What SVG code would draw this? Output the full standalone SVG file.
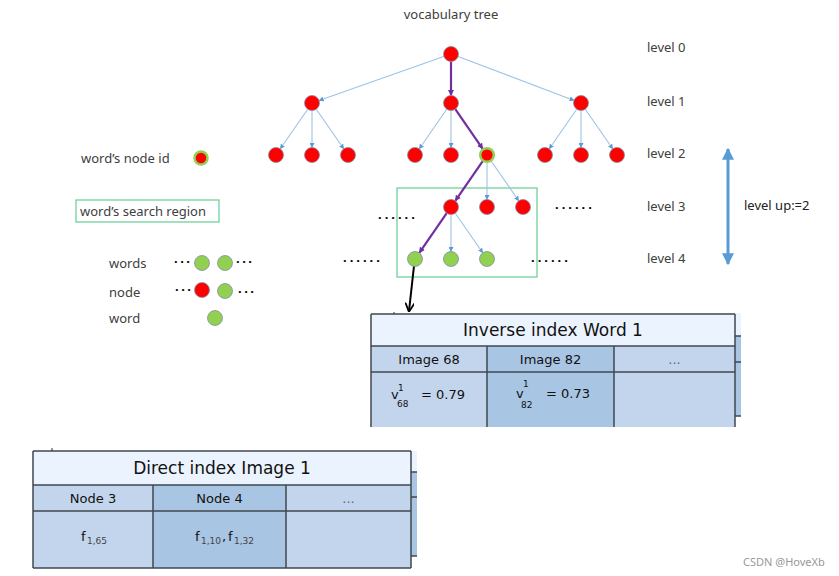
<svg xmlns="http://www.w3.org/2000/svg" width="839" height="576" viewBox="0 0 839 576">
<defs>
<marker id="ab" viewBox="0 0 10 10" refX="9" refY="5" markerWidth="5" markerHeight="5" orient="auto" markerUnits="userSpaceOnUse"><path d="M0,0 L10,5 L0,10 z" fill="#5b9bd5"/></marker>
<marker id="ap" viewBox="0 0 10 10" refX="9" refY="5" markerWidth="6" markerHeight="6" orient="auto" markerUnits="userSpaceOnUse"><path d="M0,0 L10,5 L0,10 z" fill="#7030a0"/></marker>
<marker id="ak" viewBox="0 0 10 10" refX="9" refY="5" markerWidth="9" markerHeight="9" orient="auto" markerUnits="userSpaceOnUse"><path d="M0,0 L10,5 L0,10" fill="none" stroke="#000" stroke-width="2"/></marker>
<marker id="au" viewBox="0 0 10 10" refX="9" refY="5" markerWidth="12" markerHeight="12" orient="auto-start-reverse" markerUnits="userSpaceOnUse"><path d="M0,0 L10,5 L0,10 z" fill="#5b9bd5"/></marker>
</defs>
<style>
text{font-family:"Noto Sans","Liberation Sans",sans-serif;fill:#404040;font-size:13px}
.r{fill:#ff0000;stroke:#7f8fa8;stroke-width:0.8}
.g{fill:#92d050;stroke:#7f8fa8;stroke-width:0.8}
.hl{fill:#ff0000;stroke:#92d050;stroke-width:2.5}
.e{stroke:#9dc3e6;stroke-width:1.1;fill:none;marker-end:url(#ab)}
.p{stroke:#7030a0;stroke-width:2.2;fill:none;marker-end:url(#ap)}
.dots{font-weight:bold;fill:#000;letter-spacing:3px}
.tb{stroke:#3f474f;stroke-width:1.5}
.hd{fill:#ebf3fe}
.c1{fill:#c3d5ec}
.c2{fill:#a8c5e3}
.tt{font-family:"DejaVu Sans",sans-serif;fill:#111}
.s{font-size:9px}
.lv{fill:#404040}
</style>
<rect width="839" height="576" fill="#fff"/>
<text x="451" y="19" text-anchor="middle">vocabulary tree</text>
<g id="levels" class="lv">
<text x="647" y="52">level 0</text>
<text x="647" y="106">level 1</text>
<text x="647" y="158">level 2</text>
<text x="647" y="211">level 3</text>
<text x="647" y="263">level 4</text>
</g>
<g id="levelup">
<line x1="728" y1="149" x2="728" y2="264" stroke="#5b9bd5" stroke-width="3" marker-end="url(#au)" marker-start="url(#au)"/>
<text x="744" y="210" style="fill:#222">level up:=2</text>
</g>
<rect x="397" y="188" width="140" height="89" fill="none" stroke="#6fd19c" stroke-width="1.3"/>
<g id="connectors">
<line class="e" x1="444.4" y1="56.3" x2="319.1" y2="100.5"/>
<line class="p" x1="451" y1="61.5" x2="451" y2="95.5"/>
<line class="e" x1="458" y1="56.5" x2="574" y2="100.4"/>
<line class="e" x1="307.7" y1="109.2" x2="280.3" y2="148.8"/>
<line class="e" x1="312" y1="110.5" x2="312" y2="147.5"/>
<line class="e" x1="316.3" y1="109.2" x2="343.7" y2="148.8"/>
<line class="e" x1="446.7" y1="109.2" x2="419.3" y2="148.8"/>
<line class="e" x1="451" y1="110.5" x2="451" y2="147.5"/>
<line class="p" x1="455.3" y1="109.2" x2="482.7" y2="148.8"/>
<line class="e" x1="576.7" y1="109.2" x2="549.3" y2="148.8"/>
<line class="e" x1="581" y1="110.5" x2="581" y2="147.5"/>
<line class="e" x1="585.3" y1="109.2" x2="612.7" y2="148.8"/>
<line class="p" x1="482.7" y1="161.2" x2="455.3" y2="200.8"/>
<line class="e" x1="487" y1="162.5" x2="487" y2="199.5"/>
<line class="e" x1="491.3" y1="161.2" x2="518.7" y2="200.8"/>
<line class="p" x1="446.7" y1="213.2" x2="419.3" y2="252.8"/>
<line class="e" x1="451" y1="214.5" x2="451" y2="251.5"/>
<line class="e" x1="455.3" y1="213.2" x2="482.7" y2="252.8"/>
<line x1="414" y1="266" x2="409" y2="311" stroke="#000" stroke-width="2" marker-end="url(#ak)"/>
</g>
<g id="nodes">
<circle id="n0" class="r" cx="451" cy="54" r="7.5"/>
<circle id="n1a" class="r" cx="312" cy="103" r="7.5"/>
<circle id="n1b" class="r" cx="451" cy="103" r="7.5"/>
<circle id="n1c" class="r" cx="581" cy="103" r="7.5"/>
<circle id="n2a" class="r" cx="276" cy="155" r="7.5"/>
<circle id="n2b" class="r" cx="312" cy="155" r="7.5"/>
<circle id="n2c" class="r" cx="348" cy="155" r="7.5"/>
<circle id="n2d" class="r" cx="415" cy="155" r="7.5"/>
<circle id="n2e" class="r" cx="451" cy="155" r="7.5"/>
<circle id="n2f" class="hl" cx="487" cy="155" r="6.8"/>
<circle id="n2g" class="r" cx="545" cy="155" r="7.5"/>
<circle id="n2h" class="r" cx="581" cy="155" r="7.5"/>
<circle id="n2i" class="r" cx="617" cy="155" r="7.5"/>
<circle id="n3a" class="r" cx="451" cy="207" r="7.5"/>
<circle id="n3b" class="r" cx="487" cy="207" r="7.5"/>
<circle id="n3c" class="r" cx="523" cy="207" r="7.5"/>
<circle id="n4a" class="g" cx="415" cy="259" r="7.5"/>
<circle id="n4b" class="g" cx="451" cy="259" r="7.5"/>
<circle id="n4c" class="g" cx="487" cy="259" r="7.5"/>
</g>
<g id="treedots">
<text class="dots" x="378" y="219">......</text>
<text class="dots" x="555" y="209">......</text>
<text class="dots" x="343" y="262">......</text>
<text class="dots" x="531" y="262">......</text>
</g>
<g id="legend">
<text x="81" y="163">word’s node id</text>
<circle class="hl" cx="201" cy="158" r="6.5"/>
<rect x="76" y="200" width="143" height="22" fill="none" stroke="#6fd19c" stroke-width="1.3"/>
<text x="80" y="216">word’s search region</text>
<text x="109" y="268">words</text>
<text class="dots" x="174" y="266" style="letter-spacing:2.5px">···</text>
<circle class="g" cx="202" cy="263" r="7.5"/>
<circle class="g" cx="225" cy="263" r="7.5"/>
<text class="dots" x="236" y="266" style="letter-spacing:2.5px">···</text>
<text x="109" y="297">node</text>
<text class="dots" x="175" y="294" style="letter-spacing:2.5px">···</text>
<circle class="r" cx="202" cy="290" r="7.5"/>
<circle class="g" cx="225" cy="291" r="7.5"/>
<text class="dots" x="238" y="296" style="letter-spacing:2.5px">···</text>
<text x="109" y="323">word</text>
<circle class="g" cx="215" cy="318" r="7.5"/>
</g>
<g id="inverse">
<rect x="735" y="313" width="6" height="23" class="hd"/>
<rect x="735" y="336" width="6" height="80" class="c2"/>
<line class="tb" x1="735" y1="336" x2="741" y2="336"/>
<line class="tb" x1="735" y1="362" x2="741" y2="362"/>
<line class="tb" x1="735" y1="416" x2="741" y2="416"/>
<rect x="371" y="314" width="364" height="32" class="hd"/>
<rect x="371" y="346" width="116" height="81" class="c1"/>
<rect x="487" y="346" width="127" height="81" class="c2"/>
<rect x="614" y="346" width="121" height="81" class="c1"/>
<line class="tb" x1="371" y1="314" x2="735" y2="314"/>
<line class="tb" x1="371" y1="346" x2="735" y2="346"/>
<line class="tb" x1="371" y1="372" x2="735" y2="372"/>
<line class="tb" x1="371" y1="314" x2="371" y2="427"/>
<line class="tb" x1="487" y1="346" x2="487" y2="427"/>
<line class="tb" x1="614" y1="346" x2="614" y2="427"/>
<line class="tb" x1="735" y1="314" x2="735" y2="427"/>
<line x1="394" y1="312" x2="394" y2="314" stroke="#333" stroke-width="1"/>
<text class="tt" x="553" y="336" text-anchor="middle" style="font-size:17px">Inverse index Word 1</text>
<text class="tt" x="429" y="364" text-anchor="middle">Image 68</text>
<text class="tt" x="550.5" y="364" text-anchor="middle">Image 82</text>
<text class="tt" x="674.5" y="364" text-anchor="middle" style="fill:#666">...</text>
<text class="tt" x="391" y="399">v<tspan class="s" x="398" y="391">1</tspan><tspan class="s" x="397" y="407">68</tspan><tspan x="421" y="399">= 0.79</tspan></text>
<text class="tt" x="516" y="398">v<tspan class="s" x="523" y="387">1</tspan><tspan class="s" x="521" y="408">82</tspan><tspan x="546" y="398">= 0.73</tspan></text>
</g>
<g id="direct">
<rect x="411" y="451" width="6" height="21" class="hd"/>
<rect x="411" y="472" width="6" height="84" class="c2"/>
<line class="tb" x1="411" y1="472" x2="417" y2="472"/>
<line class="tb" x1="411" y1="497" x2="417" y2="497"/>
<line class="tb" x1="411" y1="556" x2="417" y2="556"/>
<rect x="33" y="451" width="378" height="34" class="hd"/>
<rect x="33" y="485" width="120" height="83" class="c1"/>
<rect x="153" y="485" width="133" height="83" class="c2"/>
<rect x="286" y="485" width="125" height="83" class="c1"/>
<line class="tb" x1="33" y1="451" x2="411" y2="451"/>
<line class="tb" x1="33" y1="485" x2="411" y2="485"/>
<line class="tb" x1="33" y1="511" x2="411" y2="511"/>
<line class="tb" x1="33" y1="568" x2="411" y2="568"/>
<line class="tb" x1="33" y1="451" x2="33" y2="568"/>
<line class="tb" x1="153" y1="485" x2="153" y2="568"/>
<line class="tb" x1="286" y1="485" x2="286" y2="568"/>
<line class="tb" x1="411" y1="451" x2="411" y2="568"/>
<line x1="52" y1="448" x2="52" y2="451" stroke="#333" stroke-width="1"/>
<text class="tt" x="222" y="474" text-anchor="middle" style="font-size:17px">Direct index Image 1</text>
<text class="tt" x="93" y="503" text-anchor="middle">Node 3</text>
<text class="tt" x="219.5" y="503" text-anchor="middle">Node 4</text>
<text class="tt" x="348.5" y="503" text-anchor="middle" style="fill:#666">...</text>
<text class="tt" x="81" y="541">f<tspan class="s" x="87" y="544" style="fill:#444">1,65</tspan></text>
<text class="tt" x="195" y="541">f<tspan class="s" x="201" y="544" style="fill:#444">1,10</tspan><tspan x="222" y="541">,</tspan><tspan x="228" y="541">f</tspan><tspan class="s" x="234" y="544" style="fill:#444">1,32</tspan></text>
</g>
<text x="743" y="566" style="font-size:11px;fill:#999">CSDN @HoveXb</text>
</svg>
